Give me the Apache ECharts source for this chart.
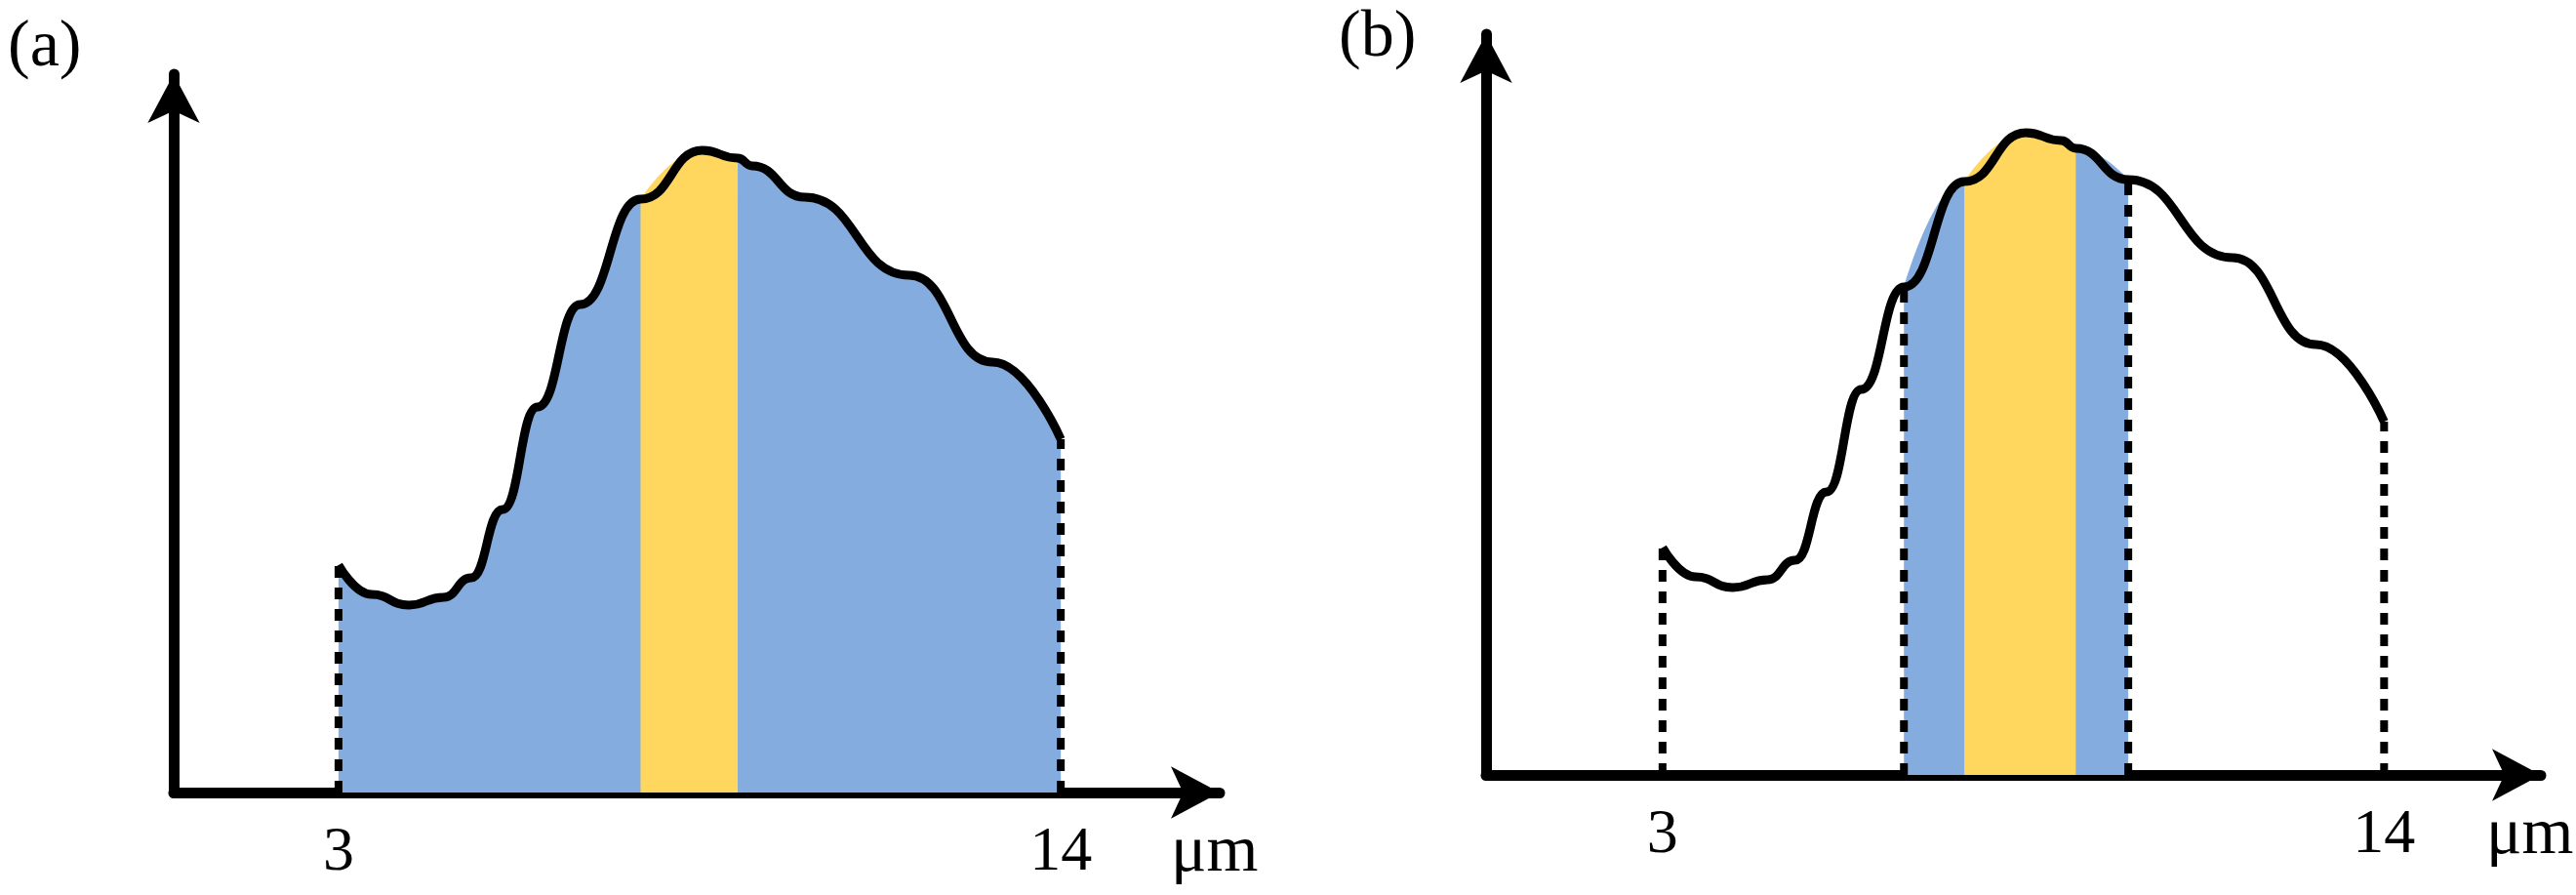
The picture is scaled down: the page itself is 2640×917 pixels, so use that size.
<!DOCTYPE html>
<html>
<head>
<meta charset="utf-8">
<script src="https://cdn.jsdelivr.net/npm/echarts@6/dist/echarts.min.js"></script>
<style>html,body{margin:0;padding:0;background:#fff}#chart{width:2640px;height:917px}</style>
</head>
<body>
<div id="chart"></div>
<script>
// curve (x in um, y in arbitrary units)
var curveX = [3.0, 3.5, 4.07, 4.6, 5.02, 5.5, 6.03, 6.68, 7.6, 8.54, 9.08, 9.3, 10.1, 11.69, 12.96, 14.0];
var curveY = [2.33, 2.03, 1.92, 2.0, 2.2, 2.9, 3.95, 5.0, 6.08, 6.58, 6.5, 6.42, 6.1, 5.3, 4.41, 3.62];
var tickLabels = [3, 14];
// bands: [from, to]
var blueA = [3.0, 14.0], yellowA = [7.6, 9.08];
var blueB = [6.68, 10.1], yellowB = [7.6, 9.3];
var dashA = [3.0, 14.0];
var dashB = [3.0, 6.68, 10.1, 14.0];

var BLUE = '#84ACDE', YELLOW = '#FFD75E';
var pts = curveX.map(function (x, i) { return [x, curveY[i]]; });
function sub(r) { return pts.filter(function (p) { return p[0] >= r[0] - 1e-6 && p[0] <= r[1] + 1e-6; }); }
function yAt(x) { for (var i = 0; i < pts.length; i++) if (Math.abs(pts[i][0] - x) < 1e-6) return pts[i][1]; return 0; }

function axes(idx, min, max, ymax) {
    var axisLine = { lineStyle: { color: '#000', width: 11 }, symbol: ['none', 'arrow'], symbolSize: [40, 50] };
    return {
        x: { type: 'value', gridIndex: idx, min: min, max: max, axisLine: axisLine, axisTick: { show: false }, splitLine: { show: false },
             axisLabel: { customValues: tickLabels, fontFamily: 'Liberation Serif', fontSize: 64, color: '#000', margin: 30 } },
        y: { type: 'value', gridIndex: idx, min: 0, max: ymax, axisLine: axisLine, axisTick: { show: false }, splitLine: { show: false }, axisLabel: { show: false } }
    };
}
var a = axes(0, 0.49, 16.42, 7.36), b = axes(1, 0.31, 16.39, 7.59);

function fill(idx, r, color) {
    return { type: 'line', xAxisIndex: idx, yAxisIndex: idx, data: sub(r), smooth: 0.5, smoothMonotone: 'x', symbol: 'none', lineStyle: { width: 0 }, areaStyle: { color: color, opacity: 1 }, silent: true };
}
function curve(idx) {
    return { type: 'line', xAxisIndex: idx, yAxisIndex: idx, data: pts, smooth: 0.5, smoothMonotone: 'x', symbol: 'none', lineStyle: { color: '#000', width: 9 }, z: 5 };
}
function dashes(idx, xs) {
    return xs.map(function (x) {
        return { type: 'line', xAxisIndex: idx, yAxisIndex: idx, data: [[x, 0], [x, yAt(x)]], symbol: 'none', lineStyle: { color: '#000', width: 8, type: [12, 10] }, z: 4 };
    });
}

var series = [fill(0, blueA, BLUE), fill(0, yellowA, YELLOW), curve(0)].concat(dashes(0, dashA))
    .concat([fill(1, blueB, BLUE), fill(1, yellowB, YELLOW), curve(1)]).concat(dashes(1, dashB));

var txt = { fontFamily: 'Liberation Serif', fontSize: 68, fill: '#000' };
var option = {
    animation: false,
    grid: [
        { left: 178, top: 76, width: 1072, height: 736 },
        { left: 1523, top: 35, width: 1081, height: 759 }
    ],
    xAxis: [a.x, b.x],
    yAxis: [a.y, b.y],
    series: series,
    graphic: [
        { type: 'text', left: 8, top: 15, style: Object.assign({ text: '(a)' }, txt) },
        { type: 'text', left: 1372, top: 5, style: Object.assign({ text: '(b)' }, txt) },
        { type: 'text', left: 1200, top: 840, style: Object.assign({ text: 'μm' }, txt) },
        { type: 'text', left: 2548, top: 822, style: Object.assign({ text: 'μm' }, txt) }
    ]
};
var myChart = echarts.init(document.getElementById('chart'));
myChart.setOption(option);
</script>
</body>
</html>
